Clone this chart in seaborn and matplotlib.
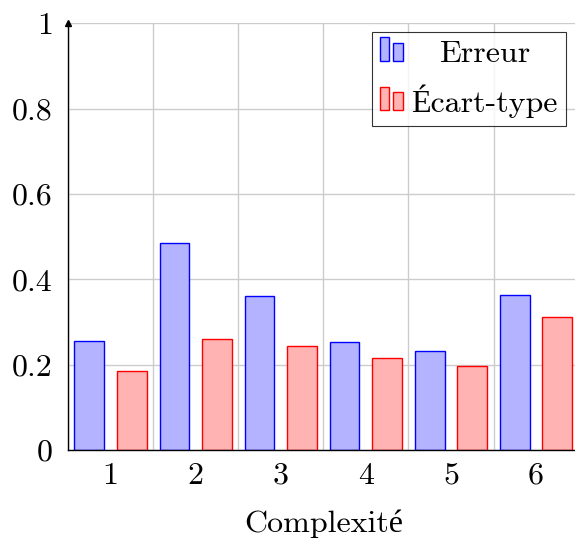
import matplotlib
matplotlib.use("Agg")
import matplotlib.pyplot as plt
import pandas as pd
import seaborn as sns
from matplotlib.patches import Rectangle
from matplotlib.legend_handler import HandlerBase

# Data
complexite = ["1", "2", "3", "4", "5", "6"]
erreur = [0.256, 0.486, 0.362, 0.253, 0.233, 0.363]
ecart_type = [0.184, 0.259, 0.244, 0.215, 0.197, 0.312]
series = ["Erreur", "Écart-type"]

fill_colors = {"Erreur": "#b3b3ff", "Écart-type": "#ffb3b3"}
edge_colors = {"Erreur": "#0000ff", "Écart-type": "#ff0000"}

df = pd.DataFrame({
    "Complexité": complexite * 2,
    "valeur": erreur + ecart_type,
    "serie": [series[0]] * len(complexite) + [series[1]] * len(complexite),
})

sns.set_style("white")
plt.rcParams["font.family"] = ["cmr10", "Liberation Serif"]
plt.rcParams["axes.formatter.use_mathtext"] = True
plt.rcParams["text.color"] = "black"
plt.rcParams["xtick.labelcolor"] = "black"
plt.rcParams["ytick.labelcolor"] = "black"
plt.rcParams["axes.labelcolor"] = "black"

FS = 23

fig = plt.figure(figsize=(5.75, 5.4), dpi=100)
ax = fig.add_axes([0.1183, 0.1667, 0.888, 0.79])

sns.barplot(data=df, x="Complexité", y="valeur", hue="serie",
            palette=fill_colors, width=1.0, gap=0.3, ax=ax,
            linewidth=1.0, saturation=1, legend=False)

for cont, name in zip(ax.containers, series):
    for bar in cont:
        bar.set_edgecolor(edge_colors[name])
        bar.set_linewidth(1.0)

ax.set_xlim(-0.5, 5.5)
ax.set_ylim(0, 1)
ax.set_yticks([0, 0.2, 0.4, 0.6, 0.8, 1.0])
ax.set_yticklabels(["0", "0.2", "0.4", "0.6", "0.8", "1"])
ax.set_xticks(range(6))
ax.set_xticklabels(complexite)
ax.set_xticks([i - 0.5 for i in range(6)], minor=True)

ax.grid(axis="y", which="major", color="#cccccc", linewidth=1.0)
ax.grid(axis="x", which="minor", color="#cccccc", linewidth=1.0)
ax.grid(axis="x", which="major", visible=False)
ax.set_axisbelow(True)

ax.tick_params(axis="x", which="major", length=0, labelsize=FS, pad=9)
ax.tick_params(axis="x", which="minor", length=5, direction="inout", width=0.8, color="#444444")
ax.tick_params(axis="y", which="major", length=6, direction="inout", width=0.8,
               labelsize=FS, pad=8, color="#444444")

for side in ["top", "right"]:
    ax.spines[side].set_visible(False)
for side in ["left", "bottom"]:
    ax.spines[side].set_color("black")
    ax.spines[side].set_linewidth(1.0)

# arrow heads on the axes
ax.plot(0, 1, marker="^", color="black", markersize=4, transform=ax.transAxes, clip_on=False)
ax.plot(1, 0, marker=">", color="black", markersize=4, transform=ax.transAxes, clip_on=False)

ax.set_xlabel("Complexité", fontsize=FS, labelpad=14)
ax.set_ylabel("")


class TwoBars(HandlerBase):
    def create_artists(self, legend, orig_handle, xdescent, ydescent,
                       width, height, fontsize, trans):
        fc = orig_handle.get_facecolor()
        ec = orig_handle.get_edgecolor()
        w = width * 0.38
        r1 = Rectangle((-xdescent, -ydescent + 1), w, height + 1,
                       facecolor=fc, edgecolor=ec, linewidth=1.0, transform=trans)
        r2 = Rectangle((-xdescent + width * 0.58, -ydescent + 1), w, height - 3,
                       facecolor=fc, edgecolor=ec, linewidth=1.0, transform=trans)
        return [r1, r2]


handles = [Rectangle((0, 0), 1, 1, facecolor=fill_colors[s], edgecolor=edge_colors[s])
           for s in series]
leg = ax.legend(handles, series, handler_map={Rectangle: TwoBars()},
                loc="upper right", bbox_to_anchor=(0.975, 0.98),
                fontsize=FS, frameon=True, fancybox=False, edgecolor="black",
                handlelength=0.75, handletextpad=0.25, borderpad=0.25,
                labelspacing=0.5, borderaxespad=0.0)
leg.get_frame().set_linewidth(0.8)

# centre the shorter entry like the reference
fig.canvas.draw()
renderer = fig.canvas.get_renderer()
texts = leg.get_texts()
w0 = texts[0].get_window_extent(renderer).width
w1 = texts[1].get_window_extent(renderer).width
texts[0].set_x((w1 - w0) / 2)

fig.savefig("out.png", dpi=100)
